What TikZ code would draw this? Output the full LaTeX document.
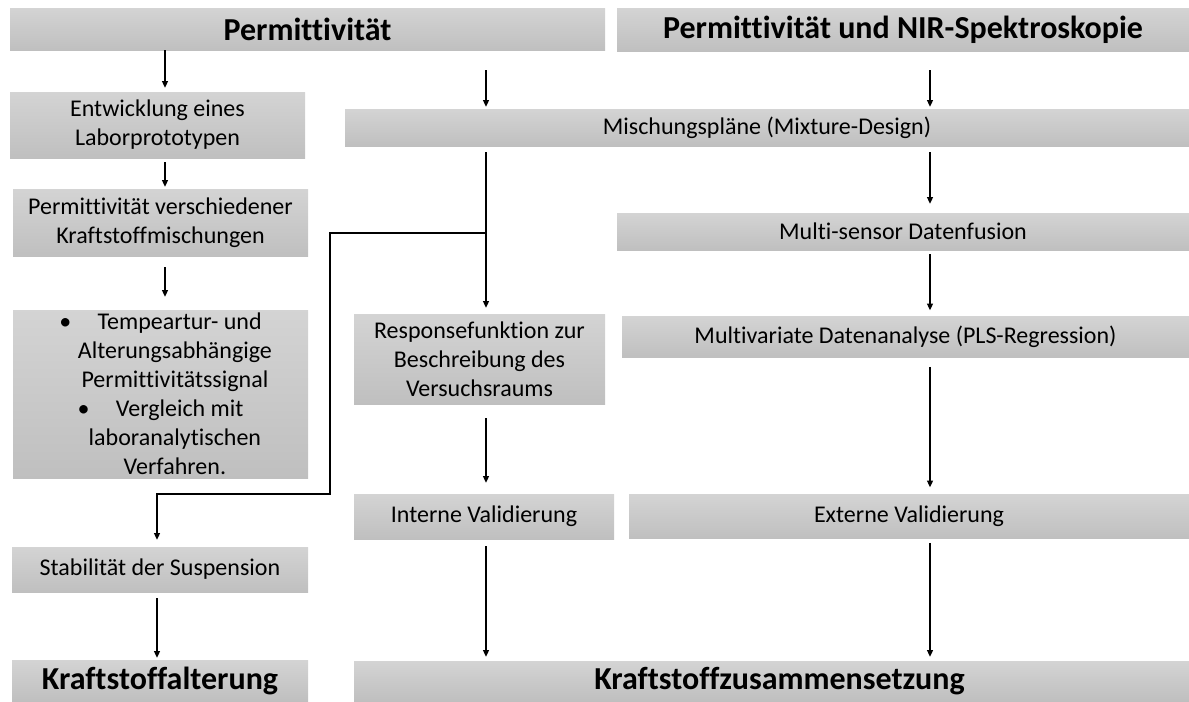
\documentclass[tikz,border=0pt]{standalone}
\usepackage{fontspec}
\setmainfont{Carlito}[Ligatures=NoCommon]
\usetikzlibrary{arrows.meta}
\tikzset{
   box/.style={top color=black!17,bottom color=black!25,inner sep=0pt,align=center,
               font=\fontsize{18}{21.75}\selectfont},
   head/.style={box,font=\fontsize{24}{28}\selectfont\bfseries},
   dims/.style 2 args={minimum width=#1*0.75pt,minimum height=#2*0.75pt},
   gap/.style 2 args={shorten <=#1*0.75pt,shorten >=#2*0.75pt},
   arr/.style={-{Triangle[length=5pt,width=4.5pt]},line width=0.9pt}}

\begin{document}
\begin{tikzpicture}[x=0.75pt,y=-0.75pt]
   \useasboundingbox (0,0) rectangle (1189,701);
   \coordinate (colA) at (165,0);
   \coordinate (colB) at (157,0);
   \coordinate (colM) at (486,0);
   \coordinate (colR) at (930,0);
   \coordinate (split) at (486,233);
   \coordinate (bend)  at (330,494);
   \node (hdrL)   at (307.5,29)   [head,dims={595}{42}] {Permittivität};
   \node (hdrR)   at (903,29.5)   [head,dims={572}{43}] {Permittivität und NIR-Spektroskopie};
   \node (entw)   at (157.5,125)  [box,dims={295}{66}]  {Entwicklung eines\\Laborprototypen};
   \node (perm)   at (160.5,222.5)[box,dims={295}{67}]  {Permittivität verschiedener\\Kraftstoffmischungen};
   \node (bull)   at (160.5,394)  [box,dims={295}{168}] {•\hspace{1.1em}Tempeartur- und\\\hspace{1.2em}Alterungsabhängige\\\hspace{1.2em}Permittivitätssignal\\•\hspace{1.1em}Vergleich mit\\\hspace{1.2em}laboranalytischen\\\hspace{1.2em}Verfahren.};
   \node (stab)   at (160,569.5)  [box,dims={296}{45}]  {Stabilität der Suspension};
   \node (alter)  at (160,680.5)  [head,dims={296}{41}] {Kraftstoffalterung};
   \node (misch)  at (767,127.5)  [box,dims={844}{37}]  {Mischungspläne (Mixture-Design)};
   \node (resp)   at (479.5,359)  [box,dims={251}{90}]  {Responsefunktion zur\\Beschreibung des\\Versuchsraums};
   \node (intern) at (484,516.5)  [box,dims={260}{45}]  {Interne Validierung};
   \node (zus)    at (771.5,681)  [head,dims={835}{40}] {\hspace{12pt}Kraftstoffzusammensetzung};
   \node (fusion) at (903,231.5)  [box,dims={572}{37}]  {Multi-sensor Datenfusion};
   \node (multi)  at (905.5,337)  [box,dims={567}{41}]  {Multivariate Datenanalyse (PLS-Regression)};
   \node (extern) at (909,516.5)  [box,dims={560}{44}]  {Externe Validierung};
   % linke Spalte
   \draw[arr,gap={0}{4}]   (hdrL.south -| colA)   to (entw.north -| colA);
   \draw[arr,gap={4}{2}]   (entw.south -| colA)   to (perm.north -| colA);
   \draw[arr,gap={11}{13}] (perm.south -| colA)   to (bull.north -| colA);
   \draw[arr,gap={6}{2}]   (stab.south -| colB)   to (alter.north -| colB);
   % mittlere Spalte
   \draw[arr,gap={20}{2}]  (hdrL.south -| colM)   to (misch.north -| colM);
   \draw[arr,gap={6}{6}]   (misch.south -| colM)  to (resp.north -| colM);
   \draw[arr,gap={0}{7}]   (split) -| (bend) -| (stab.north -| colB);
   \draw[arr,gap={14}{11}] (resp.south -| colM)   to (intern.north -| colM);
   \draw[arr,gap={7}{4}]   (intern.south -| colM) to (zus.north -| colM);
   % rechte Spalte
   \draw[arr,gap={19}{2}]  (hdrR.south -| colR)   to (misch.north -| colR);
   \draw[arr,gap={6}{9}]   (misch.south -| colR)  to (fusion.north -| colR);
   \draw[arr,gap={4}{6}]   (fusion.south -| colR) to (multi.north -| colR);
   \draw[arr,gap={9}{7}]   (multi.south -| colR)  to (extern.north -| colR);
   \draw[arr,gap={4}{4}]   (extern.south -| colR) to (zus.north -| colR);
\end{tikzpicture}
\end{document}
